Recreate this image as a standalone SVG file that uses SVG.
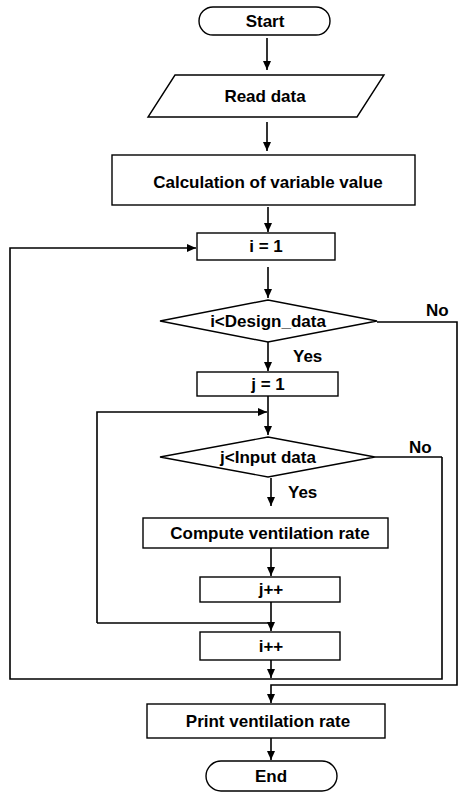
<svg xmlns="http://www.w3.org/2000/svg" width="459" height="793" viewBox="0 0 459 793">
<defs>
<style>
.s{fill:#fff;stroke:#000;stroke-width:1.4}
.t{font-family:"Liberation Sans",Arial,sans-serif;font-weight:bold;font-size:17px;fill:#000;text-anchor:middle}
.l{font-family:"Liberation Sans",Arial,sans-serif;font-weight:bold;font-size:17px;fill:#000}
.c{fill:none;stroke:#000;stroke-width:1.6}
</style>
<marker id="a" markerWidth="10" markerHeight="10" refX="9" refY="5" orient="auto" markerUnits="userSpaceOnUse">
<path d="M0,1 L9,5 L0,9 Z" fill="#000"/>
</marker>
</defs>
<rect width="459" height="793" fill="#fff"/>
<g id="connectors">
<path class="c" d="M267,38 V70" marker-end="url(#a)"/>
<path class="c" d="M267,122 V151" marker-end="url(#a)"/>
<path class="c" d="M268,207 V232" marker-end="url(#a)"/>
<path class="c" d="M268,267 V298" marker-end="url(#a)"/>
<path class="c" d="M268,342 V371" marker-end="url(#a)"/>
<path class="c" d="M268,396 V435" marker-end="url(#a)"/>
<path class="c" d="M97,623 V412 H267" marker-end="url(#a)"/>
<path class="c" d="M271,478 V506" marker-end="url(#a)"/>
<path class="c" d="M271,548 V576" marker-end="url(#a)"/>
<path class="c" d="M271,602 V631" marker-end="url(#a)"/>
<path class="c" d="M97,623 H271"/>
<path class="c" d="M271,660 V678" marker-end="url(#a)"/>
<path class="c" d="M442,457 V679 H10 V248 H196" marker-end="url(#a)"/>
<path class="c" d="M375,457 H442"/>
<path class="c" d="M377,322 H457 V685 H271 V703" marker-end="url(#a)"/>
<path class="c" d="M271,738 V760" marker-end="url(#a)"/>
</g>
<g id="start">
<rect class="s" x="199" y="7" width="131" height="28" rx="14"/>
<text class="t" x="265" y="27">Start</text>
</g>
<g id="read">
<polygon class="s" points="175,75 384,75 357,117 148,117"/>
<text class="t" x="265" y="102">Read data</text>
</g>
<g id="calc">
<rect class="s" x="112" y="155" width="303" height="50"/>
<text class="t" x="268" y="188">Calculation of variable value</text>
</g>
<g id="i1">
<rect class="s" x="197" y="233" width="138" height="27"/>
<text class="t" x="266" y="252">i = 1</text>
</g>
<g id="dec1">
<polygon class="s" points="160,321 268,300 377,321 268,342"/>
<text class="t" x="268" y="327">i&lt;Design_data</text>
<text class="l" x="426" y="316">No</text>
<text class="l" x="293" y="362">Yes</text>
</g>
<g id="j1">
<rect class="s" x="197" y="372" width="141" height="24"/>
<text class="t" x="268" y="390">j = 1</text>
</g>
<g id="dec2">
<polygon class="s" points="160,457 268,437 375,457 268,477"/>
<text class="t" x="268" y="463">j&lt;Input data</text>
<text class="l" x="409" y="453">No</text>
<text class="l" x="288" y="498">Yes</text>
</g>
<g id="compute">
<rect class="s" x="143" y="518" width="245" height="30"/>
<text class="t" x="270" y="539">Compute ventilation rate</text>
</g>
<g id="jpp">
<rect class="s" x="200" y="577" width="140" height="25"/>
<text class="t" x="271" y="595">j++</text>
</g>
<g id="ipp">
<rect class="s" x="200" y="632" width="140" height="28"/>
<text class="t" x="271" y="652">i++</text>
</g>
<g id="print">
<rect class="s" x="147" y="704" width="238" height="34"/>
<text class="t" x="268" y="727">Print ventilation rate</text>
</g>
<g id="end">
<rect class="s" x="206" y="761" width="131" height="30" rx="15"/>
<text class="t" x="271" y="782">End</text>
</g>
</svg>
